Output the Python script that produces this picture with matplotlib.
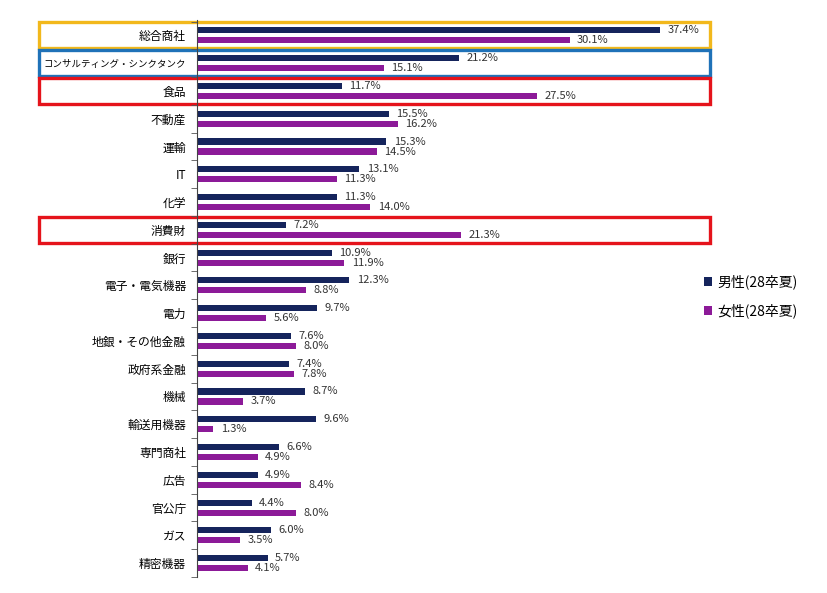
import matplotlib
matplotlib.use("Agg")
import matplotlib.pyplot as plt
import matplotlib.transforms as mtransforms
from matplotlib.patches import Rectangle
import numpy as np

plt.rcParams['font.family'] = ['Noto Sans CJK JP', 'DejaVu Sans']

# data
categories = ['総合商社', 'コンサルティング・シンクタンク', '食品', '不動産', '運輸', 'IT', '化学',
              '消費財', '銀行', '電子・電気機器', '電力', '地銀・その他金融', '政府系金融', '機械',
              '輸送用機器', '専門商社', '広告', '官公庁', 'ガス', '精密機器']
male = [37.4, 21.2, 11.7, 15.5, 15.3, 13.1, 11.3, 7.2, 10.9, 12.3,
        9.7, 7.6, 7.4, 8.7, 9.6, 6.6, 4.9, 4.4, 6.0, 5.7]
female = [30.1, 15.1, 27.5, 16.2, 14.5, 11.3, 14.0, 21.3, 11.9, 8.8,
          5.6, 8.0, 7.8, 3.7, 1.3, 4.9, 8.4, 8.0, 3.5, 4.1]
series_names = ['男性(28卒夏)', '女性(28卒夏)']

# highlighted rows and their frame colours
highlights = {'総合商社': '#f2b81c', 'コンサルティング・シンクタンク': '#1f72b8',
              '食品': '#e5131b', '消費財': '#e5131b'}

navy = '#15245c'
purple = '#8c1a98'

fig = plt.figure(figsize=(8.28, 5.93), dpi=100)
ax = fig.add_axes([0.238, 0.027, 0.598, 0.939])

y = np.arange(len(categories))
h = 0.22
off = 0.18
ax.barh(y - off, male, height=h, color=navy, label=series_names[0])
ax.barh(y + off, female, height=h, color=purple, label=series_names[1])

# value labels next to each bar
for i in range(len(categories)):
    ax.text(male[i] + 0.6, y[i] - off, f'{male[i]:.1f}%', va='center', ha='left',
            fontsize=8, color='#333333')
    ax.text(female[i] + 0.6, y[i] + off, f'{female[i]:.1f}%', va='center', ha='left',
            fontsize=8, color='#333333')

ax.set_xlim(0, 40)
ax.set_ylim(len(categories) - 0.5, -0.55)
ax.set_yticks(y)
ax.set_yticklabels(categories, fontsize=8.5)
for lab in ax.get_yticklabels():
    if len(lab.get_text()) > 10:
        lab.set_fontsize(6.8)
ax.tick_params(axis='y', which='major', length=0, pad=8)
ax.set_yticks(np.arange(len(categories) + 1) - 0.5, minor=True)
ax.tick_params(axis='y', which='minor', length=4, color='#555555')
ax.set_xticks([])
for s in ['top', 'right', 'bottom']:
    ax.spines[s].set_visible(False)
ax.spines['left'].set_color('#444444')

# frames around highlighted categories
trans = mtransforms.blended_transform_factory(fig.transFigure, ax.transData)
for name, col in highlights.items():
    i = categories.index(name)
    ax.add_patch(Rectangle((0.047, i - 0.47), 0.81, 0.94, transform=trans,
                           fill=False, edgecolor=col, linewidth=2.4, clip_on=False))

fig.legend(loc='center left', bbox_to_anchor=(0.835, 0.5), frameon=False,
           fontsize=10, handlelength=0.6, handleheight=0.6, handletextpad=0.4,
           labelspacing=1.0)

fig.savefig('out.png', dpi=100)
